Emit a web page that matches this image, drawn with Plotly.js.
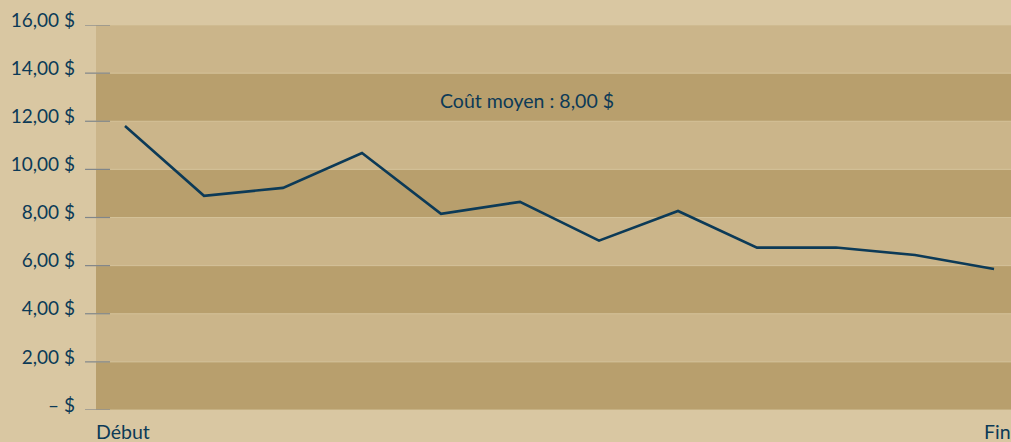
<!DOCTYPE html>
<html>
<head>
<meta charset="utf-8">
<script src="https://cdn.plot.ly/plotly-3.0.1.min.js"></script>
<style>html,body{margin:0;padding:0;background:#d9c7a2;}#chart{width:1011px;height:442px;}</style>
</head>
<body>
<div id="chart"></div>
<script>
const periods = [1,2,3,4,5,6,7,8,9,10,11,12];
const costs = [11.8, 8.9, 9.23, 10.68, 8.15, 8.65, 7.04, 8.27, 6.75, 6.75, 6.44, 5.86];
const tickValues = [0,2,4,6,8,10,12,14,16];
const tickLabels = ["– $","2,00 $","4,00 $","6,00 $","8,00 $","10,00 $","12,00 $","14,00 $","16,00 $"];
const startLabel = "Début";
const endLabel = "Fin";
const avgLabel = "Coût moyen : 8,00 $";

const navy = "#0c3a57";
const light = "#cbb58a";
const dark = "#b89f6d";
const fontFam = "Lato, 'Open Sans', sans-serif";

const shapes = [];
for (let i = 0; i < tickValues.length - 1; i++) {
  shapes.push({type:"rect", xref:"paper", yref:"y", x0:0, x1:1, y0:tickValues[i], y1:tickValues[i+1],
    fillcolor: (i % 2 === 0) ? dark : light, line:{width:0}, layer:"below"});
}
tickValues.forEach(v => {
  shapes.push({type:"line", xref:"paper", yref:"y", x0:0, x1:1, y0:v, y1:v,
    line:{color:"#d3c198", width:1}, layer:"below"});
  shapes.push({type:"line", xref:"paper", yref:"y", x0:-0.012, x1:0.0153, y0:v, y1:v,
    line:{color:"#80868a", width:1.2}});
});

const data = [{
  x: periods, y: costs, type:"scatter", mode:"lines",
  line:{color:navy, width:2.6}, hoverinfo:"skip"
}];

const layout = {
  width:1011, height:442,
  margin:{l:96, r:0, t:25, b:32, pad:0},
  paper_bgcolor:"#d9c7a2", plot_bgcolor:"rgba(0,0,0,0)",
  showlegend:false,
  xaxis:{range:[0.633,12.215], showgrid:false, zeroline:false, showticklabels:false, ticks:"", showline:false, fixedrange:true},
  yaxis:{range:[0,16], tickvals:tickValues, ticktext:tickLabels, showgrid:false, zeroline:false, showline:false,
    ticks:"", ticklabelstandoff:20, ticklabelshift:-5, tickfont:{family:fontFam, size:19, color:navy}, fixedrange:true},
  shapes: shapes,
  annotations:[
    {xref:"paper", yref:"paper", x:0, y:0, xanchor:"left", yanchor:"top", yshift:-8, xshift:-2, text:startLabel, showarrow:false,
      font:{family:fontFam, size:19.5, color:navy}},
    {xref:"paper", yref:"paper", x:1, y:0, xanchor:"right", yanchor:"top", yshift:-8, xshift:2, text:endLabel, showarrow:false,
      font:{family:fontFam, size:19.5, color:navy}},
    {xref:"paper", yref:"y", x:0.471, y:12.85, xanchor:"center", yanchor:"middle", text:avgLabel, showarrow:false,
      font:{family:fontFam, size:19.5, color:navy}}
  ]
};
Plotly.newPlot("chart", data, layout, {staticPlot:true, displayModeBar:false});
</script>
</body>
</html>
